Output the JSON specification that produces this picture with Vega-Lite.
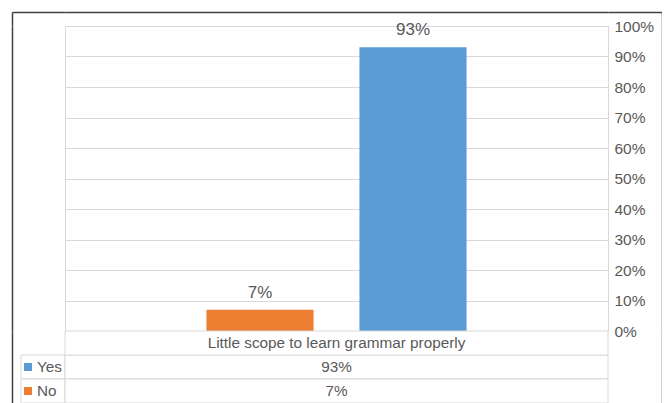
{
  "$schema": "https://vega.github.io/schema/vega-lite/v6.json",
  "padding": {"left": 12, "top": 12, "right": 0, "bottom": 0},
  "background": "white",
  "config": {
    "view": {"stroke": null},
    "font": "Liberation Sans",
    "text": {"color": "#595959", "font": "Liberation Sans"}
  },
  "datasets": {
    "survey": [
      {"category": "Little scope to learn grammar properly", "series": "Yes", "value": 0.93},
      {"category": "Little scope to learn grammar properly", "series": "No", "value": 0.07}
    ]
  },
  "data": {"name": "survey"},
  "columns": 3,
  "spacing": 0,
  "align": "each",
  "bounds": "flush",
  "concat": [
    {
      "width": 53,
      "height": 14,
      "mark": {"type": "text", "text": ""},
      "encoding": {
        "x": {"datum": "frame", "type": "nominal", "axis": {"orient": "top", "domain": true, "domainColor": "#404040", "domainWidth": 1.5, "labels": false, "ticks": false, "grid": false, "title": null}},
        "y": {"datum": "frame", "type": "nominal", "axis": {"orient": "left", "domain": true, "domainColor": "#404040", "domainWidth": 1.5, "labels": false, "ticks": false, "grid": false, "title": null}}
      }
    },
    {
      "width": 543,
      "height": 14,
      "mark": {"type": "text", "text": ""},
      "encoding": {
        "x": {"datum": "frame", "type": "nominal", "axis": {"orient": "top", "domain": true, "domainColor": "#404040", "domainWidth": 1.5, "labels": false, "ticks": false, "grid": false, "title": null}}
      }
    },
    {
      "width": 54,
      "height": 14,
      "mark": {"type": "text", "text": ""},
      "encoding": {
        "x": {"datum": "frame", "type": "nominal", "axis": {"orient": "top", "domain": true, "domainColor": "#404040", "domainWidth": 1.5, "labels": false, "ticks": false, "grid": false, "title": null}},
        "y": {"datum": "frame", "type": "nominal", "axis": {"orient": "right", "domain": true, "domainColor": "#404040", "domainWidth": 1.5, "labels": false, "ticks": false, "grid": false, "title": null}}
      }
    },
    {
      "width": 53,
      "height": 305,
      "mark": {"type": "text", "text": ""},
      "encoding": {
        "y": {"datum": "frame", "type": "nominal", "axis": {"orient": "left", "domain": true, "domainColor": "#404040", "domainWidth": 1.5, "labels": false, "ticks": false, "grid": false, "title": null}}
      }
    },
    {
      "width": 543,
      "height": 305,
      "view": {"stroke": "#d9d9d9", "strokeWidth": 1},
      "encoding": {
        "x": {
          "field": "category",
          "type": "nominal",
          "axis": null,
          "scale": {"paddingInner": 0, "paddingOuter": 0.544}
        },
        "xOffset": {
          "field": "series",
          "type": "nominal",
          "sort": ["No", "Yes"],
          "scale": {"paddingInner": 0.3, "paddingOuter": 0}
        },
        "y": {
          "field": "value",
          "type": "quantitative",
          "scale": {"domain": [0, 1], "nice": false},
          "axis": {
            "orient": "right",
            "format": ".0%",
            "values": [0, 0.1, 0.2, 0.3, 0.4, 0.5, 0.6, 0.7, 0.8, 0.9, 1],
            "domain": false,
            "ticks": false,
            "grid": true,
            "gridColor": "#d9d9d9",
            "gridWidth": 1,
            "labelFont": "Liberation Sans",
            "labelFontSize": 15.5,
            "labelColor": "#595959",
            "labelPadding": 6,
            "labelBaseline": "middle",
            "title": null
          }
        }
      },
      "layer": [
        {
          "mark": {"type": "bar"},
          "encoding": {
            "color": {
              "field": "series",
              "type": "nominal",
              "scale": {"domain": ["Yes", "No"], "range": ["#5B9BD5", "#ED7D31"]},
              "legend": null
            }
          }
        },
        {
          "mark": {"type": "text", "baseline": "alphabetic", "dy": -12, "fontSize": 17, "color": "#595959"},
          "encoding": {
            "text": {"field": "value", "type": "quantitative", "format": ".0%"}
          }
        }
      ]
    },
    {
      "width": 54,
      "height": 305,
      "mark": {"type": "text", "text": ""},
      "encoding": {
        "y": {"datum": "frame", "type": "nominal", "axis": {"orient": "right", "domain": true, "domainColor": "#404040", "domainWidth": 1.5, "labels": false, "ticks": false, "grid": false, "title": null}}
      }
    },
    {
      "width": 53,
      "height": 72,
      "encoding": {
        "x": {
          "datum": "key",
          "type": "nominal",
          "axis": null,
          "scale": {"paddingInner": 0, "paddingOuter": 0.1023, "align": 1}
        },
        "y": {
          "field": "series",
          "type": "nominal",
          "axis": {"orient": "left", "domain": true, "domainColor": "#404040", "domainWidth": 1.5, "labels": false, "ticks": false, "grid": false, "title": null},
          "scale": {"domain": ["cat", "Yes", "No"], "paddingInner": 0, "paddingOuter": 0}
        }
      },
      "layer": [
        {
          "mark": {"type": "rect", "fill": "white", "stroke": "#d9d9d9", "strokeWidth": 1}
        },
        {
          "mark": {"type": "square", "size": 64, "opacity": 1, "xOffset": 7, "filled": true},
          "encoding": {
            "x": {"datum": "key", "type": "nominal", "bandPosition": 0},
            "color": {
              "field": "series",
              "type": "nominal",
              "scale": {"domain": ["Yes", "No"], "range": ["#5B9BD5", "#ED7D31"]},
              "legend": null
            }
          }
        },
        {
          "mark": {"type": "text", "align": "left", "xOffset": 16, "fontSize": 15.3, "color": "#595959"},
          "encoding": {
            "x": {"datum": "key", "type": "nominal", "bandPosition": 0},
            "text": {"field": "series", "type": "nominal"}
          }
        }
      ]
    },
    {
      "width": 543,
      "height": 72,
      "encoding": {
        "x": {
          "datum": "val",
          "type": "nominal",
          "axis": null,
          "scale": {"paddingInner": 0, "paddingOuter": 0}
        }
      },
      "layer": [
        {
          "mark": {"type": "rect", "fill": "white", "stroke": "#d9d9d9", "strokeWidth": 1},
          "encoding": {
            "y": {
              "field": "series",
              "type": "nominal",
              "axis": null,
              "scale": {"domain": ["cat", "Yes", "No"], "paddingInner": 0, "paddingOuter": 0}
            }
          }
        },
        {
          "mark": {"type": "text", "fontSize": 15.3, "color": "#595959"},
          "encoding": {
            "y": {"field": "series", "type": "nominal"},
            "text": {"field": "value", "type": "quantitative", "format": ".0%"}
          }
        },
        {
          "transform": [{"aggregate": [{"op": "count", "as": "n"}], "groupby": ["category"]}],
          "mark": {"type": "rect", "fill": "white", "stroke": "#d9d9d9", "strokeWidth": 1},
          "encoding": {
            "y": {"datum": "cat", "type": "nominal"}
          }
        },
        {
          "transform": [{"aggregate": [{"op": "count", "as": "n"}], "groupby": ["category"]}],
          "mark": {"type": "text", "fontSize": 15.3, "color": "#595959"},
          "encoding": {
            "y": {"datum": "cat", "type": "nominal"},
            "text": {"field": "category", "type": "nominal"}
          }
        }
      ]
    },
    {
      "width": 54,
      "height": 72,
      "mark": {"type": "text", "text": ""},
      "encoding": {
        "y": {"datum": "frame", "type": "nominal", "axis": {"orient": "right", "domain": true, "domainColor": "#404040", "domainWidth": 1.5, "labels": false, "ticks": false, "grid": false, "title": null}}
      }
    }
  ]
}
